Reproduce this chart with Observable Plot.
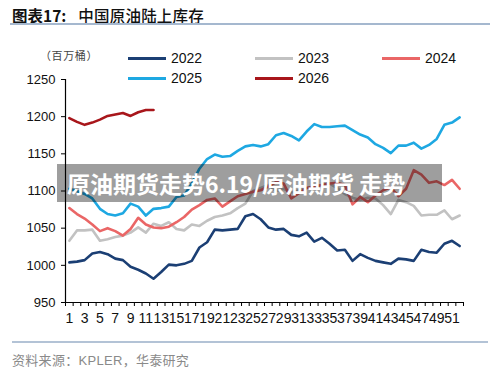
<!DOCTYPE html>
<html><head><meta charset="utf-8">
<script src="https://cdn.jsdelivr.net/npm/d3@7"></script>
<script src="https://cdn.jsdelivr.net/npm/@observablehq/plot@0.6"></script>
<style>
body{margin:0;background:#fff;}
#wrap{position:relative;width:500px;height:368px;overflow:hidden;font-family:"Liberation Sans",Arial,"Noto Sans CJK SC",sans-serif;color:#111;}
.abs{position:absolute;white-space:nowrap;}
#title{left:12px;top:5px;font-family:"Noto Sans CJK SC",sans-serif;font-size:15.5px;font-weight:700;line-height:20px;}
#title .t2{margin-left:12px;font-weight:500;letter-spacing:0.2px;}
#rule1{left:10px;top:23px;width:480px;height:2px;background:#a5b8cf;}
#unit{left:40px;top:47px;font-family:"Noto Sans CJK SC",sans-serif;font-size:11px;line-height:16px;color:#444;letter-spacing:0.6px;}
.leg{display:flex;align-items:center;font-size:14px;line-height:16px;}
.leg span.sw{display:inline-block;width:38px;height:3px;margin-right:5px;}
#chart{left:0;top:70px;}
#rule2{left:12px;top:341px;width:476px;height:2px;background:#b3c3d6;}
#src{left:12px;top:352px;font-size:13px;line-height:16px;color:#8a8a8a;font-family:"Noto Sans CJK SC",sans-serif;letter-spacing:0.3px;}
#src .en{font-family:"Liberation Sans",Arial,sans-serif;}
#banner{left:57px;top:164px;width:385px;height:38px;background:rgba(0,0,0,0.38);color:#fff;font-family:"Noto Sans CJK SC",sans-serif;font-weight:700;font-size:23px;line-height:38px;padding-left:10px;box-sizing:border-box;}
</style></head><body>
<div id="wrap">
  <div id="title" class="abs">图表17:<span class="t2">中国原油陆上库存</span></div>
  <div id="rule1" class="abs"></div>
  <div id="unit" class="abs">（百万桶）</div>
  <div id="legend"></div>
  <div id="chart" class="abs"></div>
  <div id="rule2" class="abs"></div>
  <div id="src" class="abs">资料来源：<span class="en">KPLER</span>，华泰研究</div>
  <div id="banner" class="abs">原油期货走势6.19/原油期货 走势</div>
</div>
<script>
const years = ["2022", "2023", "2024", "2025", "2026"];
const colors = ["#1b3f74", "#c2c2c2", "#ea6666", "#1ea8e2", "#a8161b"];
const yTicks = [950, 1000, 1050, 1100, 1150, 1200, 1250];
const xLabels = [1,3,5,7,9,11,13,15,17,19,21,23,25,27,29,31,33,35,37,39,41,43,45,47,49,51];

const d2022 = [1004,1005,1007,1016,1018,1015,1009,1007,998,994,989,982,991,1001,1000,1002,1006,1024,1031,1048,1047,1048,1049,1066,1069,1062,1051,1048,1049,1041,1039,1044,1032,1037,1029,1020,1021,1006,1015,1010,1006,1004,1002,1009,1008,1006,1021,1018,1017,1029,1033,1026];
const d2023 = [1033,1047,1047,1048,1033,1035,1038,1040,1044,1051,1044,1056,1053,1058,1049,1047,1055,1053,1060,1065,1067,1070,1077,1083,1100,1104,1108,1100,1103,1098,1101,1104,1106,1108,1110,1104,1096,1091,1088,1091,1090,1081,1069,1088,1085,1080,1067,1068,1068,1074,1062,1067];
const d2024 = [1077,1069,1063,1055,1046,1050,1046,1040,1049,1064,1055,1051,1050,1052,1058,1065,1075,1081,1088,1090,1079,1086,1093,1096,1099,1101,1106,1112,1110,1090,1097,1104,1106,1108,1110,1111,1108,1082,1092,1085,1094,1101,1105,1093,1103,1128,1122,1111,1113,1108,1115,1103];
const d2025 = [1103,1100,1096,1090,1076,1069,1067,1070,1083,1079,1067,1076,1077,1079,1092,1094,1110,1130,1143,1149,1146,1147,1154,1160,1162,1160,1163,1175,1178,1174,1168,1180,1190,1186,1186,1187,1188,1182,1176,1172,1163,1158,1151,1161,1161,1165,1157,1162,1170,1189,1192,1199];
const d2026 = [1198,1193,1189,1192,1196,1201,1203,1205,1201,1206,1209,1209];

const series = [d2022, d2023, d2024, d2025, d2026];
const rows = series.flatMap((arr, i) => arr.map((v, j) => ({year: years[i], week: j + 1, value: v})));
const boundaries = d3.range(0, 53).map(k => k + 0.5);

const chart = Plot.plot({
  width: 500, height: 258,
  marginLeft: 65, marginRight: 37, marginTop: 9, marginBottom: 26,
  style: {fontFamily: "Liberation Sans, Arial, sans-serif", color: "#111", background: "transparent"},
  x: {domain: [0.5, 52.5], axis: null, label: null},
  y: {domain: [950, 1250], axis: null, label: null},
  color: {domain: years, range: colors},
  marks: [
    Plot.axisY({ticks: yTicks, tickSize: 4, tickPadding: 6, fontSize: 13, tickFormat: d => String(d), stroke: "#000", label: null}),
    Plot.axisX({ticks: boundaries, tickSize: 4, tickFormat: () => "", stroke: "#000", label: null}),
    Plot.axisX({ticks: xLabels, tickSize: 0, tickPadding: 11, fontSize: 14, tickFormat: d => String(d), label: null}),
    Plot.ruleX([0.5], {stroke: "#000", strokeWidth: 1.2}),
    Plot.ruleY([950], {stroke: "#000", strokeWidth: 1.2}),
    Plot.lineY(rows, {x: "week", y: "value", z: "year", stroke: "year", strokeWidth: 2.6, strokeLinejoin: "round"})
  ]
});
document.getElementById("chart").appendChild(chart);

// legend
const legPos = [[128, 58], [255, 58], [382, 58], [128, 78], [255, 78]];
const legend = document.getElementById("legend");
years.forEach((y, i) => {
  const d = document.createElement("div");
  d.className = "abs leg";
  d.style.left = legPos[i][0] + "px";
  d.style.top = (legPos[i][1] - 8) + "px";
  d.innerHTML = `<span class="sw" style="background:${colors[i]}"></span>${y}`;
  legend.appendChild(d);
});
</script>
</body></html>
